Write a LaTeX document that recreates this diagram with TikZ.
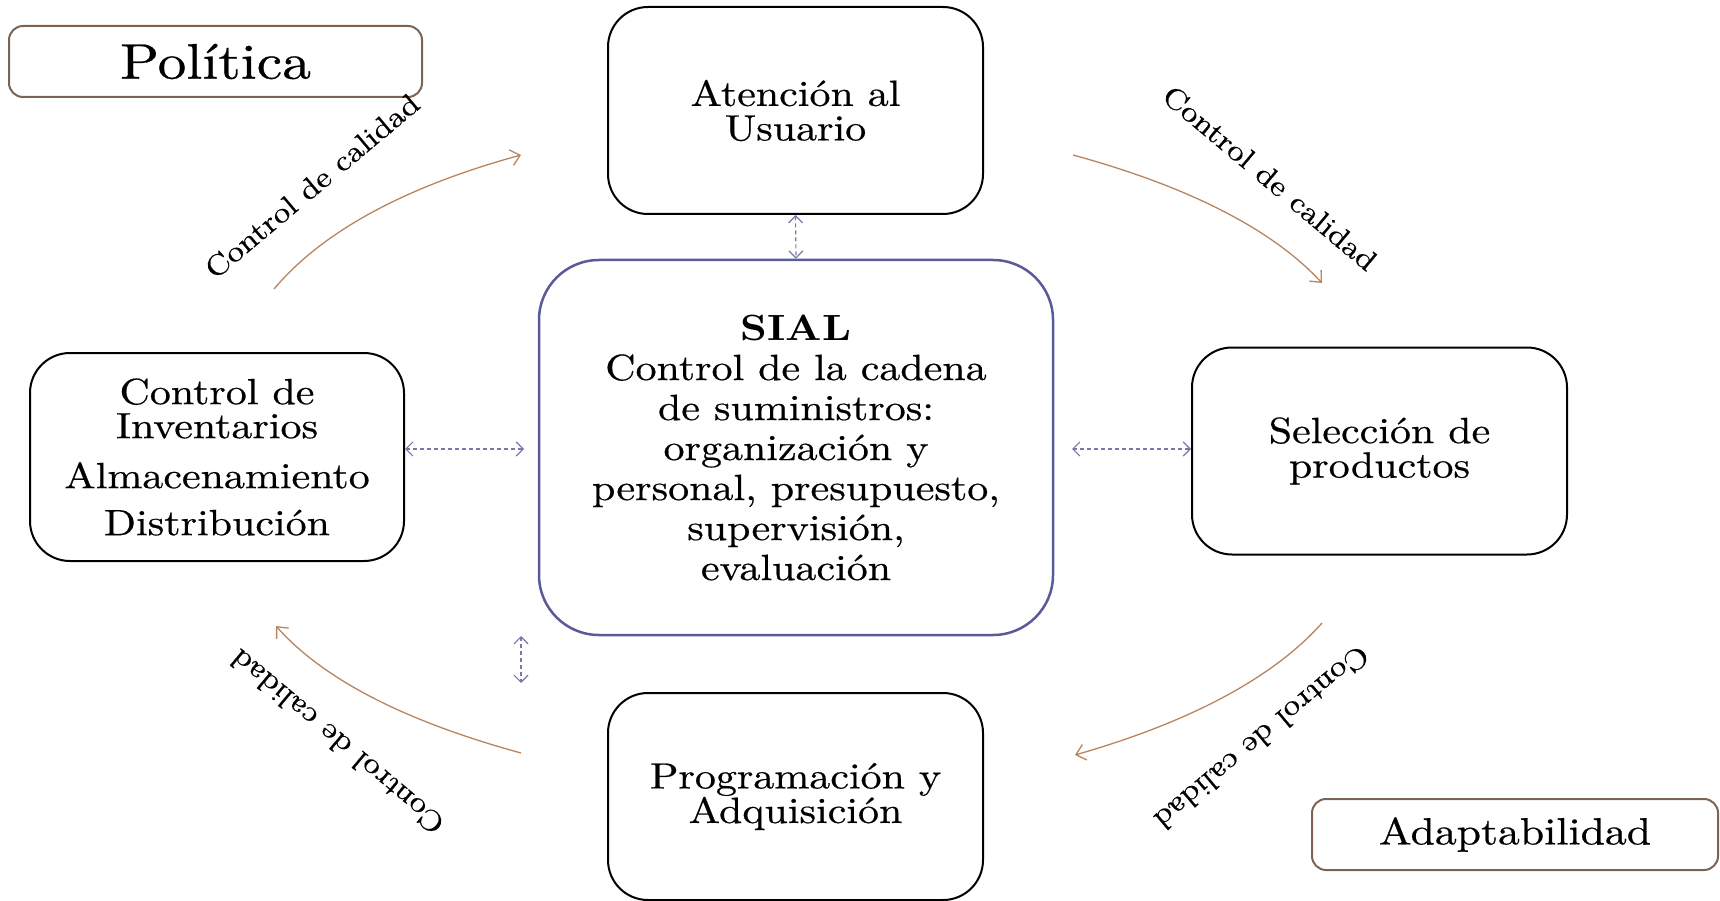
\documentclass[tikz,border=0pt]{standalone}
\usepackage{fontspec}
\setmainfont{lmroman10-regular.otf}[BoldFont=lmroman10-bold.otf, FakeStretch=1.15, UprightFeatures={FakeBold=0.5}]
\usetikzlibrary{arrows.meta}
\definecolor{arcbrown}{HTML}{B98560}
\definecolor{framebrown}{HTML}{7D6452}
\definecolor{sialblue}{HTML}{5A5A98}
\definecolor{dashblue}{HTML}{7878A8}
\begin{document}
\begin{tikzpicture}[x=1pt,y=-1pt,
  stepbox/.style={draw=black, line width=2pt, rounded corners=40pt, minimum width=375pt, minimum height=207pt, inner sep=0pt, align=center, font=\fontsize{36.5}{34.5}\selectfont},
  tagbox/.style={draw=framebrown, line width=2pt, rounded corners=14pt, inner sep=0pt},
  qarrow/.style={draw=arcbrown, line width=1.3pt, -{Straight Barb[length=9pt,width=16pt]}},
  link/.style={draw=dashblue, line width=1.2pt, dash pattern=on 4pt off 3pt, {Straight Barb[length=7pt,width=14pt]}-{Straight Barb[length=7pt,width=14pt]}},
  qlabel/.style={font=\fontsize{29}{31}\selectfont, inner sep=0pt}]
\useasboundingbox (0,0) rectangle (1720,901);
\fill[white] (0,0) rectangle (1720,901);

% boxes
\node[stepbox] (aten) at (795.5,110.5) {Atención al\\Usuario};
\node[stepbox, minimum width=374pt, minimum height=208pt, font=\fontsize{36.5}{34}\selectfont] (inv) at (217,457) {Control de\\Inventarios\\[16pt]Almacenamiento\\[13pt]Distribución};
\node[stepbox] (sel) at (1379.5,451) {Selección de\\productos};
\node[stepbox] (prog) at (795.5,796.5) {Programación y\\Adquisición};
\node[draw=sialblue, line width=2.5pt, rounded corners=60pt, minimum width=514pt, minimum height=375pt, inner sep=0pt, align=center, font=\fontsize{36.5}{40}\selectfont] (sial) at (796,447.5) {\textbf{SIAL}\\Control de la cadena\\de suministros:\\organización y\\personal, presupuesto,\\supervisión,\\evaluación};

% tags
\node[tagbox, minimum width=413pt, minimum height=71pt, font=\fontsize{50}{55}\selectfont] (pol) at (215.5,61.5) {Política};
\node[tagbox, minimum width=406pt, minimum height=71pt, font=\fontsize{38}{40}\selectfont] (adap) at (1515,834.5) {Adaptabilidad};

% dashed links
\coordinate (lh) at (524,449);
\coordinate (rh) at (1072,449);
\coordinate (bv1) at (521,636);
\coordinate (bv2) at (521,683);
\draw[link] (aten.south) -- (sial.north);
\draw[link] ([yshift=8pt]inv.east) -- (lh);
\draw[link] (rh) -- ([yshift=2pt]sel.west);
\draw[link] (bv1) -- (bv2);

% quality arcs
\coordinate (tl1) at (274,289); \coordinate (tl2) at (521,155);
\coordinate (tr1) at (1073,155); \coordinate (tr2) at (1322,283);
\coordinate (br1) at (1322,623); \coordinate (br2) at (1075,755);
\coordinate (bl1) at (521,753); \coordinate (bl2) at (276,626);
\draw[qarrow] (tl1) .. controls (322,232) and (404,187) .. (tl2);
\draw[qarrow] (tr1) .. controls (1190,187) and (1273,230) .. (tr2);
\draw[qarrow] (br1) .. controls (1273,678) and (1190,722) .. (br2);
\draw[qarrow] (bl1) .. controls (404,721) and (323,679) .. (bl2);

\node[qlabel, rotate=40] (ltl) at (312,186) {Control de calidad};
\node[qlabel, rotate=-40] (ltr) at (1270,178) {Control de calidad};
\node[qlabel, rotate=140] (lbl) at (337,742) {Control de calidad};
\node[qlabel, rotate=220] (lbr) at (1262,738) {Control de calidad};
\end{tikzpicture}
\end{document}
